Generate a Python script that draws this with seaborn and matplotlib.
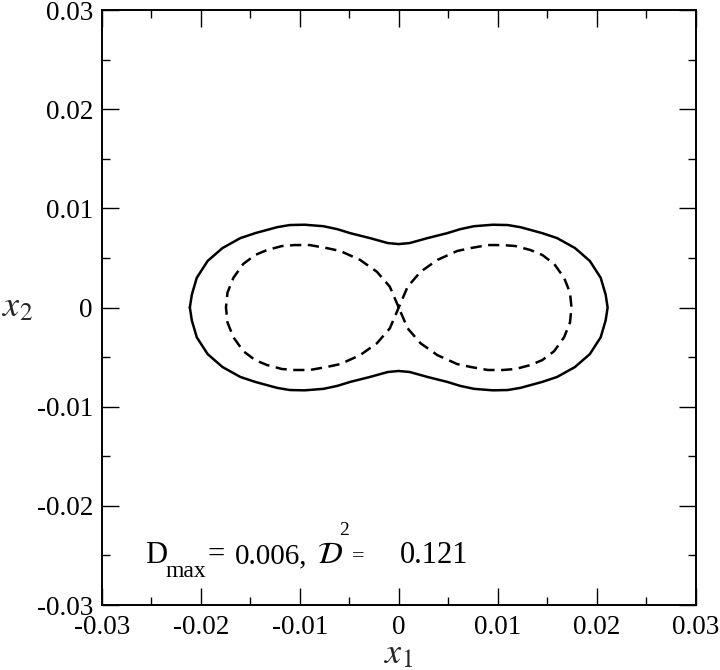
import matplotlib
matplotlib.use("Agg")
import matplotlib.pyplot as plt
import seaborn as sns
import pandas as pd
from matplotlib.ticker import MultipleLocator, FixedLocator, FixedFormatter

# solid outline, upper half from left to right
solid_upper_x = [-0.0211, -0.0209, -0.0204, -0.0193, -0.0178, -0.0160, -0.0145, -0.0123,
                 -0.0110, -0.0095, -0.0076, -0.0062, -0.0049, -0.0029, -0.0011, 0.0, 0.0011,
                 0.0029, 0.0049, 0.0062, 0.0076, 0.0095, 0.0110, 0.0123, 0.0145, 0.0160,
                 0.0178, 0.0193, 0.0204, 0.0209, 0.0211]
solid_upper_y = [0.0, 0.0013, 0.0030, 0.0047, 0.0060, 0.0070, 0.0075, 0.0081,
                 0.00832, 0.00835, 0.0082, 0.0079, 0.0075, 0.0070, 0.0065, 0.0064, 0.0065,
                 0.0070, 0.0075, 0.0079, 0.0082, 0.00835, 0.00832, 0.0081, 0.0075, 0.0070,
                 0.0060, 0.0047, 0.0030, 0.0013, 0.0]
# lower half from right to left
solid_lower_x = [0.0209, 0.0204, 0.0193, 0.0178, 0.0160, 0.0145, 0.0123, 0.0110,
                 0.0095, 0.0076, 0.0062, 0.0049, 0.0029, 0.0011, 0.0, -0.0011, -0.0029,
                 -0.0049, -0.0062, -0.0076, -0.0095, -0.0110, -0.0123, -0.0145, -0.0160,
                 -0.0178, -0.0193, -0.0204, -0.0209, -0.0211]
solid_lower_y = [-0.0013, -0.0030, -0.0047, -0.0060, -0.0070, -0.0075, -0.0081, -0.00832,
                 -0.00835, -0.0082, -0.0079, -0.0075, -0.0070, -0.0065, -0.0064, -0.0065, -0.0070,
                 -0.0075, -0.0079, -0.0082, -0.00835, -0.00832, -0.0081, -0.0075, -0.0070,
                 -0.0060, -0.0047, -0.0030, -0.0013, 0.0]

# dashed figure eight: left lobe (origin -> top -> left end -> bottom -> origin)
dash_left_x = [0.0, -0.0009, -0.0022, -0.0039, -0.0059, -0.0073, -0.0090, -0.0105,
               -0.0118, -0.0133, -0.0145, -0.0157, -0.0167, -0.0173, -0.01745,
               -0.0173, -0.0167, -0.0157, -0.0145, -0.0133, -0.0118, -0.0105,
               -0.0090, -0.0073, -0.0059, -0.0039, -0.0022, -0.0009, 0.0]
dash_left_y = [0.0, 0.0021, 0.0036, 0.0048, 0.0057, 0.0060, 0.0063, 0.0063,
               0.0062, 0.0058, 0.0053, 0.0044, 0.0030, 0.0015, 0.0,
               -0.0015, -0.0030, -0.0044, -0.0053, -0.0058, -0.0062, -0.0063,
               -0.0063, -0.0060, -0.0057, -0.0048, -0.0036, -0.0021, 0.0]
# right lobe (origin -> top -> right end -> bottom -> origin)
dash_right_x = [0.0, 0.0009, 0.0022, 0.0039, 0.0059, 0.0073, 0.0090, 0.0105,
                0.0118, 0.0133, 0.0145, 0.0157, 0.0167, 0.0173, 0.01745,
                0.0173, 0.0167, 0.0157, 0.0145, 0.0133, 0.0118, 0.0105,
                0.0090, 0.0073, 0.0059, 0.0039, 0.0022, 0.0009, 0.0]
dash_right_y = [0.0, 0.0021, 0.0036, 0.0048, 0.0057, 0.0060, 0.0063, 0.0063,
                0.0062, 0.0058, 0.0053, 0.0044, 0.0030, 0.0015, 0.0,
                -0.0015, -0.0030, -0.0044, -0.0053, -0.0058, -0.0062, -0.0063,
                -0.0063, -0.0060, -0.0057, -0.0048, -0.0036, -0.0021, 0.0]

tick_values = [-0.03, -0.02, -0.01, 0.0, 0.01, 0.02, 0.03]
tick_labels = ["-0.03", "-0.02", "-0.01", "0", "0.01", "0.02", "0.03"]

sns.set_style("ticks")
plt.rcParams["font.family"] = ["Liberation Serif", "DejaVu Serif"]
plt.rcParams["mathtext.fontset"] = "stix"
plt.rcParams["axes.unicode_minus"] = False

solid = pd.DataFrame({"x1": solid_upper_x + solid_lower_x,
                      "x2": solid_upper_y + solid_lower_y})
dashed = pd.DataFrame({"x1": dash_left_x + dash_right_x,
                       "x2": dash_left_y + dash_right_y})

W, H = 720, 670
fig = plt.figure(figsize=(W / 100, H / 100), dpi=100)
ax = fig.add_axes([0.1413, 0.0970, 0.8250, 0.8880])

sns.lineplot(data=solid, x="x1", y="x2", sort=False, estimator=None,
             color="black", linewidth=1.8, ax=ax)
sns.lineplot(data=dashed, x="x1", y="x2", sort=False, estimator=None,
             color="black", linewidth=1.8, ax=ax)
ax.lines[-1].set_dashes([4.5, 2.6])
for ln in ax.lines:
    ln.set_solid_joinstyle("round")
    ln.set_dash_joinstyle("round")

ax.set_xlim(-0.03, 0.03)
ax.set_ylim(-0.03, 0.03)

for axis in (ax.xaxis, ax.yaxis):
    axis.set_major_locator(FixedLocator(tick_values))
    axis.set_major_formatter(FixedFormatter(tick_labels))
    axis.set_minor_locator(MultipleLocator(0.005))

ax.tick_params(which="both", direction="in", top=True, right=True,
               width=1.0, color="black", labelsize=19.5, labelcolor="black")
ax.tick_params(which="major", length=12)
ax.tick_params(which="minor", length=6)
ax.tick_params(axis="x", pad=7)
ax.tick_params(axis="y", pad=6.3)

for s in ax.spines.values():
    s.set_visible(True)
    s.set_linewidth(1.4)
    s.set_color("black")

ax.set_xlabel(r"$x_{\mathit{1}}$", fontsize=26)
ax.xaxis.set_label_coords(0.5, -0.055)
ax.xaxis.label.set_va("top")
ax.set_ylabel(r"$x_{\mathit{2}}$", fontsize=26, rotation=0)
ax.yaxis.set_label_coords(-0.168, 0.5)
ax.yaxis.label.set_va("center")
ax.yaxis.label.set_ha("left")


def put(px, py, s, size):
    fig.text(px / W, 1 - py / H, s, fontsize=size, ha="left", va="baseline", color="black")


# D_max = 0.006, D^2 = 0.121 put together piece by piece
put(145, 563, "D", 22)
put(166, 577, "max", 17)
put(208, 563, "=", 22)
put(235, 563, "0.006,", 21)
put(317, 563, r"$\mathcal{D}$", 22)
put(339, 535, "2", 14)
put(352, 561, "=", 16)
put(400, 563, "0.121", 22)

fig.savefig("out.png", dpi=100)
